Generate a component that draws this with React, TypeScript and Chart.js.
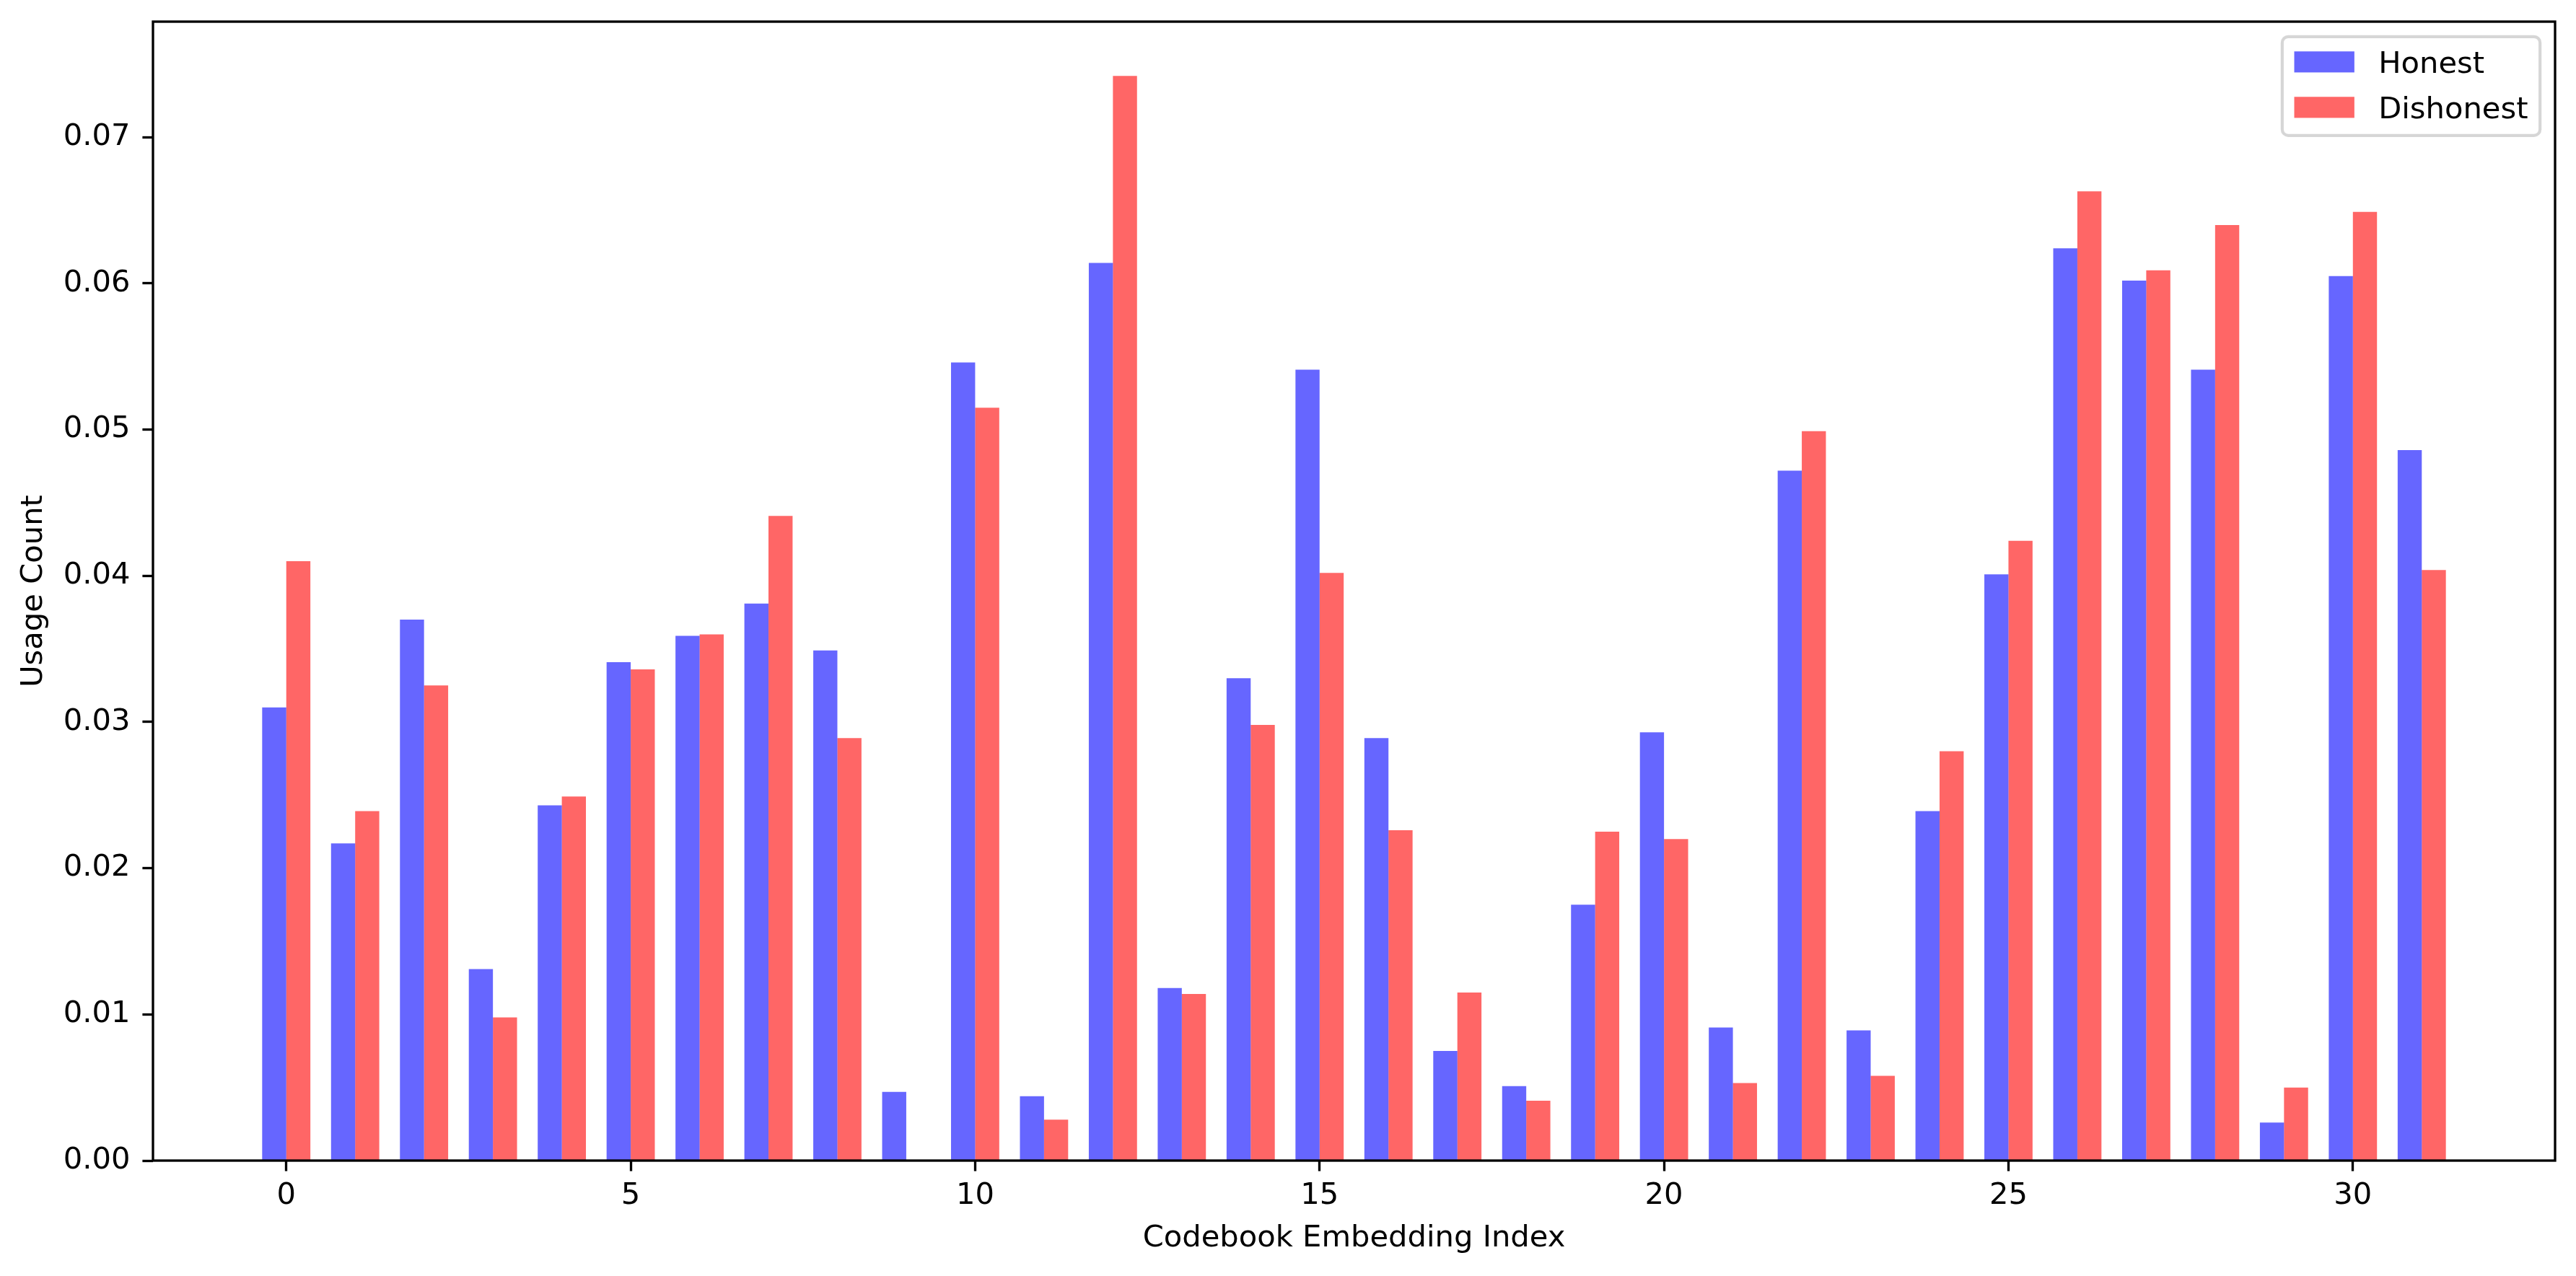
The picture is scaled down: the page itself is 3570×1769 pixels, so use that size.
import React, { useEffect, useRef } from "react";
import { Chart, registerables } from "chart.js";

Chart.register(...registerables);

// ---- data ----
const categories = [
  0, 1, 2, 3, 4, 5, 6, 7, 8, 9, 10, 11, 12, 13, 14, 15,
  16, 17, 18, 19, 20, 21, 22, 23, 24, 25, 26, 27, 28, 29, 30, 31,
];
const honest = [
  0.0310, 0.0217, 0.0370, 0.0131, 0.0243, 0.0341, 0.0359, 0.0381,
  0.0349, 0.0047, 0.0546, 0.0044, 0.0614, 0.0118, 0.0330, 0.0541,
  0.0289, 0.0075, 0.0051, 0.0175, 0.0293, 0.0091, 0.0472, 0.0089,
  0.0239, 0.0401, 0.0624, 0.0602, 0.0541, 0.0026, 0.0605, 0.0486,
];
const dishonest = [
  0.0410, 0.0239, 0.0325, 0.0098, 0.0249, 0.0336, 0.0360, 0.0441,
  0.0289, 0.0, 0.0515, 0.0028, 0.0742, 0.0114, 0.0298, 0.0402,
  0.0226, 0.0115, 0.0041, 0.0225, 0.0220, 0.0053, 0.0499, 0.0058,
  0.0280, 0.0424, 0.0663, 0.0609, 0.0640, 0.0050, 0.0649, 0.0404,
];
const xTicks = [0, 5, 10, 15, 20, 25, 30];
const yTicks = [0.0, 0.01, 0.02, 0.03, 0.04, 0.05, 0.06, 0.07];
const seriesLabels = ["Honest", "Dishonest"];
const xTitle = "Codebook Embedding Index";
const yTitle = "Usage Count";

// ---- style ----
const W = 3570;
const H = 1769;
const FS = 41.67; // 10pt @ 300dpi
const LW = 3.33; // 0.8pt
const FONT = "'DejaVu Sans', sans-serif";
const COLORS = ["rgba(0,0,255,0.6)", "rgba(255,0,0,0.6)"];
const BAR_W = 0.35;

const framePlugin = {
  id: "frame",
  afterDatasetsDraw(chart: any) {
    const { ctx, chartArea: a } = chart;
    ctx.save();
    ctx.strokeStyle = "#000";
    ctx.lineWidth = LW;
    ctx.lineJoin = "miter";
    ctx.strokeRect(a.left, a.top, a.right - a.left, a.bottom - a.top);
    ctx.restore();
  },
};

const legendPlugin = {
  id: "mplLegend",
  afterDraw(chart: any) {
    const { ctx, chartArea: a } = chart;
    ctx.save();
    ctx.font = `${FS}px ${FONT}`;
    const pad = 0.4 * FS;
    const handleW = 2.0 * FS;
    const handleH = 0.7 * FS;
    const textPad = 0.8 * FS;
    const rowH = 63;
    let maxText = 0;
    seriesLabels.forEach((l) => {
      maxText = Math.max(maxText, ctx.measureText(l).width);
    });
    const bw = pad + handleW + textPad + maxText + pad;
    const bh = 137;
    const right = a.right - 0.5 * FS;
    const top = a.top + 0.5 * FS;
    const left = right - bw;
    const r = 0.2 * FS;
    ctx.beginPath();
    ctx.roundRect(left, top, bw, bh, r);
    ctx.fillStyle = "rgba(255,255,255,0.8)";
    ctx.fill();
    ctx.lineWidth = 4.17;
    ctx.strokeStyle = "rgba(204,204,204,0.8)";
    ctx.stroke();
    seriesLabels.forEach((l, i) => {
      const cy = top + 35 + i * rowH;
      ctx.fillStyle = COLORS[i];
      ctx.fillRect(left + pad, cy - handleH / 2, handleW, handleH);
      ctx.fillStyle = "#000";
      ctx.textBaseline = "alphabetic";
      ctx.textAlign = "left";
      ctx.fillText(l, left + pad + handleW + textPad, cy + 15.5);
    });
    ctx.restore();
  },
};

export default function App() {
  const ref = useRef<HTMLCanvasElement | null>(null);

  useEffect(() => {
    if (!ref.current) return;
    Chart.defaults.font.family = FONT;
    Chart.defaults.font.size = FS;
    Chart.defaults.color = "#000";

    const lo = categories[0] - BAR_W;
    const hi = categories[categories.length - 1] + BAR_W;
    const margin = 0.05 * (hi - lo);
    const yMax = Math.max(...honest, ...dishonest) * 1.05;

    const chart = new Chart(ref.current, {
      type: "bar",
      data: {
        datasets: [
          {
            label: seriesLabels[0],
            data: categories.map((c, i) => ({ x: c, y: honest[i] })),
            backgroundColor: COLORS[0],
            borderWidth: 0,
          },
          {
            label: seriesLabels[1],
            data: categories.map((c, i) => ({ x: c, y: dishonest[i] })),
            backgroundColor: COLORS[1],
            borderWidth: 0,
          },
        ],
      },
      options: {
        animation: false,
        responsive: true,
        maintainAspectRatio: false,
        devicePixelRatio: 1,
        categoryPercentage: BAR_W * 2,
        barPercentage: 1.0,
        layout: { padding: { left: 0, top: 30, right: 29, bottom: 0 } },
        plugins: {
          legend: { display: false },
          tooltip: { enabled: false },
        },
        scales: {
          x: {
            type: "linear",
            min: lo - margin,
            max: hi + margin,
            offset: false,
            afterBuildTicks: (s: any) => {
              s.ticks = xTicks.map((v) => ({ value: v }));
            },
            afterFit: (s: any) => {
              s.height = 160;
              s.paddingLeft = 0;
              s.paddingRight = 0;
            },
            ticks: {
              padding: 10,
              maxRotation: 0,
              autoSkip: false,
              callback: (v: any) => String(v),
              font: { size: FS, family: FONT },
              color: "#000",
            },
            grid: {
              display: true,
              offset: false,
              drawOnChartArea: false,
              drawTicks: true,
              tickLength: 14.6,
              tickWidth: LW,
              tickColor: "#000",
            },
            border: { display: false },
            title: {
              display: true,
              text: xTitle,
              font: { size: FS, family: FONT },
              color: "#000",
              padding: { top: 0, bottom: 27 },
            },
          },
          y: {
            type: "linear",
            min: 0,
            max: yMax,
            afterBuildTicks: (s: any) => {
              s.ticks = yTicks.map((v) => ({ value: v }));
            },
            afterFit: (s: any) => {
              s.width = 212;
              s.paddingTop = 0;
              s.paddingBottom = 0;
            },
            ticks: {
              padding: 17,
              autoSkip: false,
              callback: (v: any) => Number(v).toFixed(2),
              font: { size: FS, family: FONT },
              color: "#000",
            },
            grid: {
              display: true,
              offset: false,
              drawOnChartArea: false,
              drawTicks: true,
              tickLength: 14.6,
              tickWidth: LW,
              tickColor: "#000",
            },
            border: { display: false },
            title: {
              display: true,
              text: yTitle,
              font: { size: FS, family: FONT },
              color: "#000",
              padding: { top: 22, bottom: 0 },
            },
          },
        },
      },
      plugins: [framePlugin, legendPlugin],
    });
    return () => chart.destroy();
  }, []);

  return (
    <div
      style={{
        position: "fixed",
        left: 0,
        top: 0,
        width: W,
        height: H,
        background: "#fff",
      }}
    >
      <canvas ref={ref} />
    </div>
  );
}
